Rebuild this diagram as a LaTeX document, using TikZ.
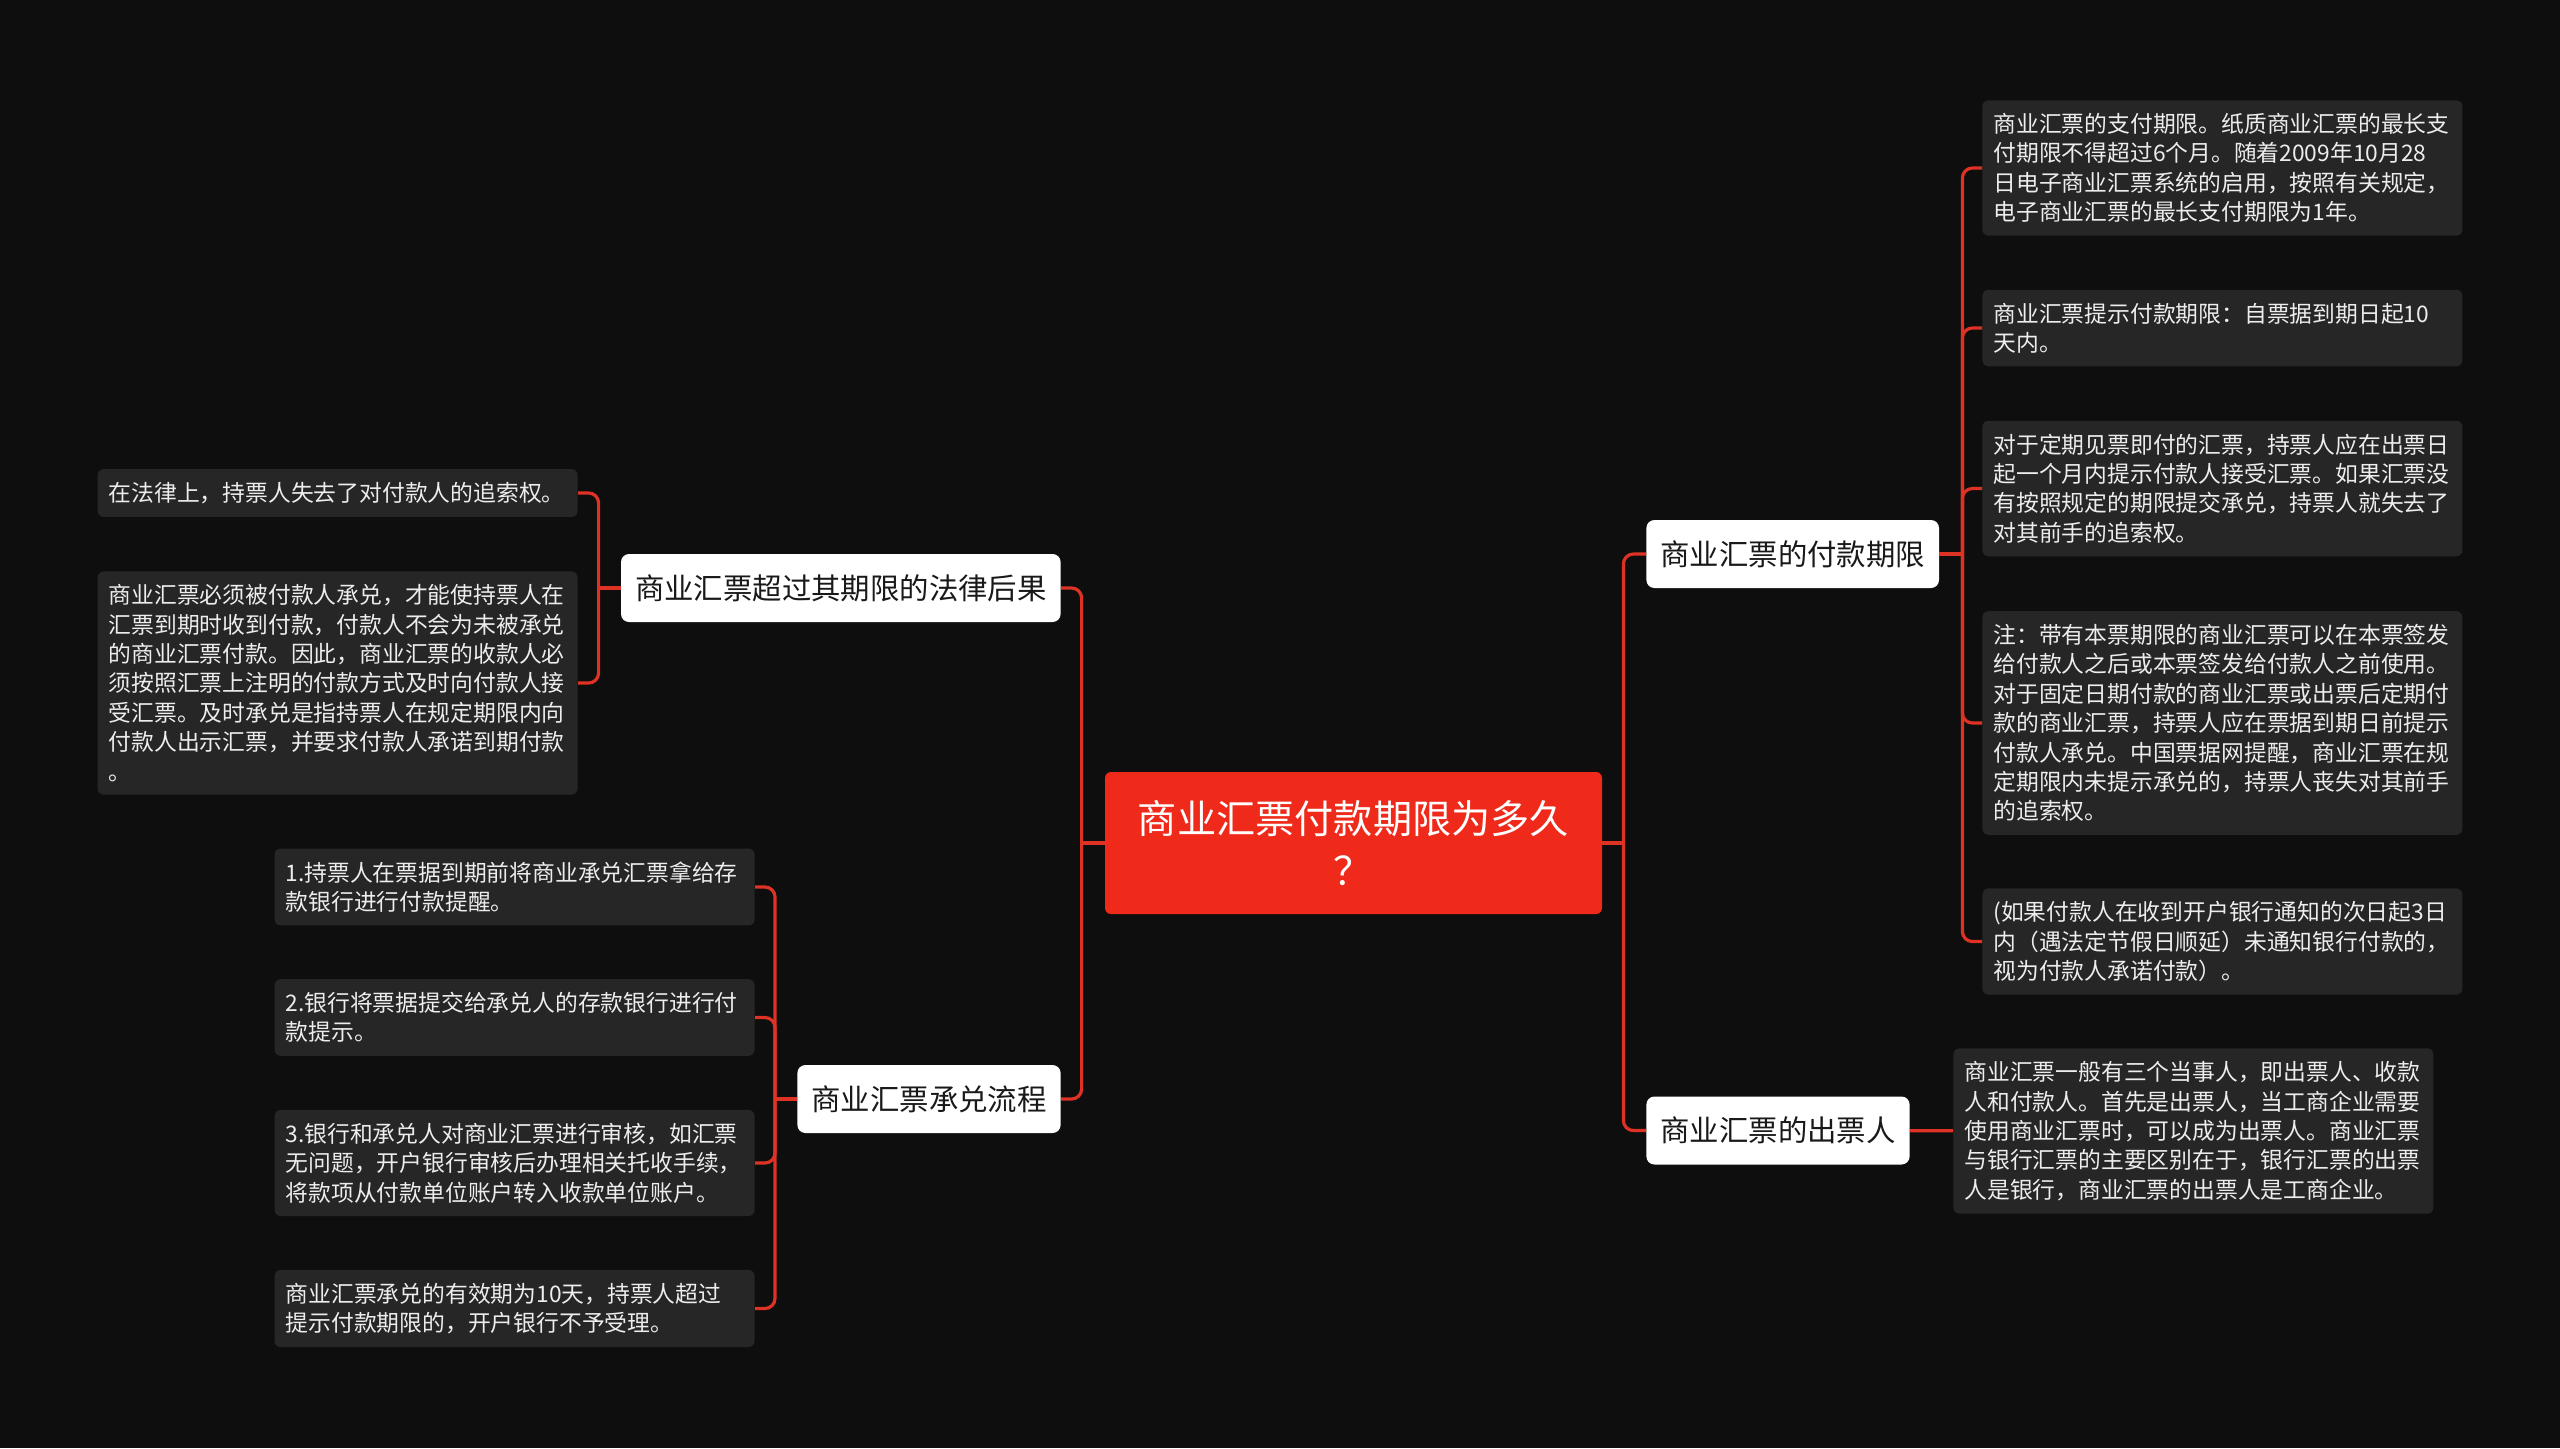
\documentclass[tikz,border=0pt]{standalone}
\usepackage{fontspec}
\newfontfamily\cjk{Noto Sans CJK SC}
\usepackage{tikz}
\usetikzlibrary{positioning}
\definecolor{bgdark}{HTML}{0E0E0E}
\definecolor{rootred}{HTML}{EF2A1A}
\definecolor{linkred}{HTML}{DE3224}
\definecolor{leafgrey}{HTML}{262626}
\tikzstyle{root} = [rectangle, rounded corners=3pt, fill=rootred, text=white, minimum width=248.5pt, minimum height=71pt, align=center, font=\cjk\fontsize{19.6pt}{26pt}\selectfont]
\tikzstyle{branch} = [rectangle, rounded corners=4pt, fill=white, text=black!90, minimum height=34pt, inner xsep=7pt, font=\cjk\fontsize{14.7pt}{18pt}\selectfont]
\tikzstyle{leaf} = [rectangle, rounded corners=3pt, fill=leafgrey, text=white!93!black, text width=229pt, inner xsep=5.5pt, inner ysep=6.5pt, align=left, font=\cjk\fontsize{11.4pt}{14.7pt}\selectfont]
\tikzstyle{connector} = [draw=linkred, line width=1.6pt, rounded corners=5pt]

\begin{document}
\begin{tikzpicture}[x=0.5pt, y=-0.5pt]
	\fill [bgdark] (0,0) rectangle (2560,1448);
	\node (Root) [root] at (1353.5,843) {商业汇票付款期限为多久\\？};
	\node (Legal) [branch, anchor=east] at (1061,588) {商业汇票超过其期限的法律后果};
	\node (Accept) [branch, anchor=east] at (1061,1099) {商业汇票承兑流程};
	\node (Deadline) [branch, anchor=west] at (1646,554) {商业汇票的付款期限};
	\node (Drawer) [branch, anchor=west] at (1646,1130.5) {商业汇票的出票人};
	\coordinate [right = 10.5pt of Root] (RootRight);
	\coordinate [left = 11.5pt of Root] (RootLeft);
	\coordinate [left = 11pt of Legal] (LegalTrunk);
	\coordinate [left = 11pt of Accept] (AcceptTrunk);
	\coordinate [right = 11.5pt of Deadline] (DeadlineTrunk);
	\node (DeadlineA) [leaf, anchor=west] at (1982,168) {商业汇票的支付期限。纸质商业汇票的最长支\\付期限不得超过6个月。随着2009年10月28\\日电子商业汇票系统的启用，按照有关规定，\\电子商业汇票的最长支付期限为1年。};
	\node (DeadlineB) [leaf, anchor=west] at (1982,328) {商业汇票提示付款期限：自票据到期日起10\\天内。};
	\node (DeadlineC) [leaf, anchor=west] at (1982,488.5) {对于定期见票即付的汇票，持票人应在出票日\\起一个月内提示付款人接受汇票。如果汇票没\\有按照规定的期限提交承兑，持票人就失去了\\对其前手的追索权。};
	\node (DeadlineD) [leaf, anchor=west] at (1982,723) {注：带有本票期限的商业汇票可以在本票签发\\给付款人之后或本票签发给付款人之前使用。\\对于固定日期付款的商业汇票或出票后定期付\\款的商业汇票，持票人应在票据到期日前提示\\付款人承兑。中国票据网提醒，商业汇票在规\\定期限内未提示承兑的，持票人丧失对其前手\\的追索权。};
	\node (DeadlineE) [leaf, anchor=west] at (1982,941.5) {(如果付款人在收到开户银行通知的次日起3日\\内（遇法定节假日顺延）未通知银行付款的，\\视为付款人承诺付款）。};
	\node (DrawerA) [leaf, anchor=west] at (1953,1131) {商业汇票一般有三个当事人，即出票人、收款\\人和付款人。首先是出票人，当工商企业需要\\使用商业汇票时，可以成为出票人。商业汇票\\与银行汇票的主要区别在于，银行汇票的出票\\人是银行，商业汇票的出票人是工商企业。};
	\node (LegalA) [leaf, anchor=east] at (578,493) {在法律上，持票人失去了对付款人的追索权。};
	\node (LegalB) [leaf, anchor=east] at (578,683) {商业汇票必须被付款人承兑，才能使持票人在\\汇票到期时收到付款，付款人不会为未被承兑\\的商业汇票付款。因此，商业汇票的收款人必\\须按照汇票上注明的付款方式及时向付款人接\\受汇票。及时承兑是指持票人在规定期限内向\\付款人出示汇票，并要求付款人承诺到期付款\\。};
	\node (AcceptA) [leaf, anchor=east] at (755,887) {1.持票人在票据到期前将商业承兑汇票拿给存\\款银行进行付款提醒。};
	\node (AcceptB) [leaf, anchor=east] at (755,1017.5) {2.银行将票据提交给承兑人的存款银行进行付\\款提示。};
	\node (AcceptC) [leaf, anchor=east] at (755,1163) {3.银行和承兑人对商业汇票进行审核，如汇票\\无问题，开户银行审核后办理相关托收手续，\\将款项从付款单位账户转入收款单位账户。};
	\node (AcceptD) [leaf, anchor=east] at (755,1308.5) {商业汇票承兑的有效期为10天，持票人超过\\提示付款期限的，开户银行不予受理。};
	\draw [connector] (Root) -- (RootRight);
	\draw [connector] (RootRight) |- (Deadline);
	\draw [connector] (RootRight) |- (Drawer);
	\draw [connector] (Root) -- (RootLeft);
	\draw [connector] (RootLeft) |- (Legal);
	\draw [connector] (RootLeft) |- (Accept);
	\draw [connector] (Deadline) -- (DeadlineTrunk);
	\foreach \leafname in {DeadlineA, DeadlineB, DeadlineC, DeadlineD, DeadlineE}
		\draw [connector] (DeadlineTrunk) |- (\leafname);
	\draw [connector] (Drawer) -- (DrawerA);
	\draw [connector] (Legal) -- (LegalTrunk);
	\draw [connector] (LegalTrunk) |- (LegalA);
	\draw [connector] (LegalTrunk) |- (LegalB);
	\draw [connector] (Accept) -- (AcceptTrunk);
	\foreach \leafname in {AcceptA, AcceptB, AcceptC, AcceptD}
		\draw [connector] (AcceptTrunk) |- (\leafname);
\end{tikzpicture}
\end{document}
